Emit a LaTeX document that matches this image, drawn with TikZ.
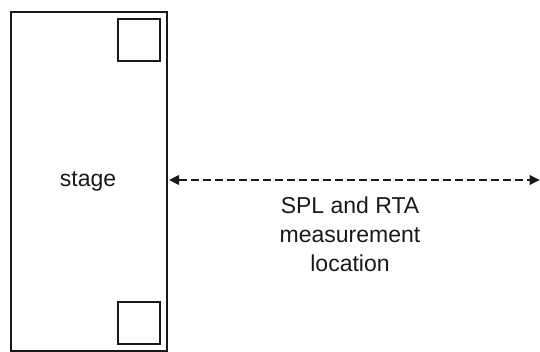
\documentclass[tikz,border=0pt]{standalone}
\usepackage{fontspec}
\setmainfont{Liberation Sans}
\usetikzlibrary{arrows.meta}
\begin{document}
\begin{tikzpicture}[x=1pt,y=-1pt,
  box/.style={draw=black!90,line width=2.1pt},
  lbl/.style={font=\fontsize{23}{29}\selectfont,text=black!90,align=center},
  meas/.style={draw=black!90,line width=1.1pt,dash pattern=on 8pt off 4pt,
    {Triangle[length=10pt,width=10pt]}-{Triangle[length=10pt,width=10pt]}}]
\useasboundingbox (0,0) rectangle (540,351);
\node[box,minimum width=156.5pt,minimum height=339pt,inner sep=0pt,anchor=north west] (stage) at (9.5,10.5) {};
\node[box,minimum width=42pt,minimum height=42pt,inner sep=0pt,anchor=north west] (sq1) at (116.5,18) {};
\node[box,minimum width=42pt,minimum height=42pt,inner sep=0pt,anchor=north west] (sq2) at (116.5,301) {};
\node[lbl] (st) at (88,181) {stage};
\coordinate (end) at (539.5,180);
\draw[meas] (stage.east |- end) ++(1,0) coordinate (start) -- (end);
\node[lbl] (txt) at (350,234) {SPL and RTA\\measurement\\location};
\end{tikzpicture}
\end{document}
